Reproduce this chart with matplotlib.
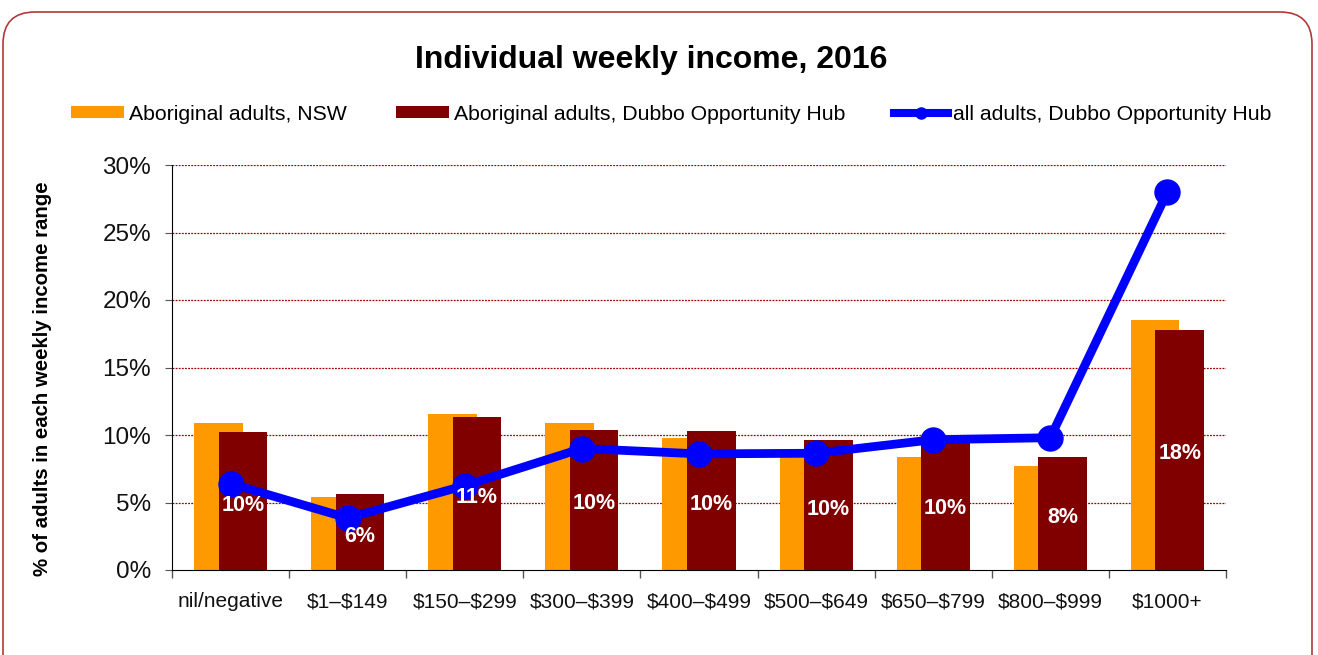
import matplotlib
matplotlib.use("Agg")
import matplotlib.pyplot as plt
import numpy as np
from matplotlib.patches import FancyBboxPatch
from matplotlib.lines import Line2D
from matplotlib.patches import Patch

plt.rcParams['font.family'] = ['Liberation Sans', 'DejaVu Sans']

categories = ['nil/negative', '$1–$149', '$150–$299', '$300–$399', '$400–$499',
              '$500–$649', '$650–$799', '$800–$999', '$1000+']
nsw = [10.9, 5.4, 11.55, 10.9, 9.75, 8.6, 8.35, 7.7, 18.5]
dubbo_abor = [10.2, 5.6, 11.3, 10.4, 10.3, 9.6, 9.7, 8.35, 17.8]
dubbo_all = [6.4, 3.85, 6.25, 9.0, 8.6, 8.65, 9.65, 9.8, 28.0]
series_names = ['Aboriginal adults, NSW', 'Aboriginal adults, Dubbo Opportunity Hub',
                'all adults, Dubbo Opportunity Hub']
title = 'Individual weekly income, 2016'
ylabel = '% of adults in each weekly income range'
yticks = [0, 5, 10, 15, 20, 25, 30]

c_orange = '#FF9900'
c_dark = '#800000'
c_blue = '#0000FF'

W, H = 1318, 655
fig = plt.figure(figsize=(W / 100, H / 100), dpi=100)

# rounded border
border = FancyBboxPatch((0.03, -0.5), 13.09, 6.43 + 0.5,
                        boxstyle='round,pad=0,rounding_size=0.32',
                        transform=fig.dpi_scale_trans, fill=False,
                        edgecolor='#B03A3A', linewidth=1.2, zorder=0)
fig.patches.append(border)

ax = fig.add_axes([172 / W, 1 - 570 / H, (1226 - 172) / W, (570 - 165) / H])
x = np.arange(len(categories))
bw = 0.415
off = 0.105
ax.bar(x - off, nsw, width=bw, color=c_orange, zorder=2)
bars = ax.bar(x + off, dubbo_abor, width=bw, color=c_dark, zorder=3)
ax.plot(x, dubbo_all, color=c_blue, lw=6.3, marker='o', markersize=18, zorder=4)

for xi, v in zip(x, dubbo_abor):
    ax.text(xi + off, v / 2 - 0.3, f'{round(v):.0f}%', color='white', fontsize=15.5,
            fontweight='bold', ha='center', va='center', zorder=6)

ax.set_xlim(-0.5, len(categories) - 0.5)
ax.set_ylim(0, 30)
ax.set_yticks(yticks)
ax.set_yticklabels([f'{t}%' for t in yticks], fontsize=17.5, color='#111111')
ax.set_xticks(x)
ax.set_xticklabels([c.replace('$', r'\$') for c in categories], fontsize=15, color='#111111')
ax.set_xticks(np.arange(len(categories) + 1) - 0.5, minor=True)
ax.tick_params(axis='x', which='major', length=0, pad=16)
ax.tick_params(axis='x', which='minor', length=6, color='#555555', width=1)
ax.tick_params(axis='y', length=5, color='#555555', pad=10)

for t in yticks[1:]:
    ax.axhline(t, color='#A00000', lw=0.9, ls=(0, (1.5, 1)), zorder=1)

for s in ['top', 'right']:
    ax.spines[s].set_visible(False)
ax.spines['left'].set_color('black')
ax.spines['bottom'].set_color('black')
ax.spines['left'].set_zorder(5)

fig.text(651 / W, 1 - 60 / H, title, fontsize=23, fontweight='bold',
         ha='center', va='center')
fig.text(43 / W, 1 - 379 / H, ylabel, fontsize=14.7, fontweight='bold',
         rotation=90, ha='center', va='center')

handles = [Patch(facecolor=c_orange), Patch(facecolor=c_dark),
           Line2D([], [], color=c_blue, lw=5.8, marker='o', markersize=8)]
leg = fig.legend(handles, series_names, loc='center', ncol=3,
                 bbox_to_anchor=(671 / W, 1 - 114 / H), frameon=False,
                 fontsize=15.3, handlelength=2.5, handleheight=0.55,
                 handletextpad=0.25, columnspacing=2.3)

fig.savefig('out.png', dpi=100)
